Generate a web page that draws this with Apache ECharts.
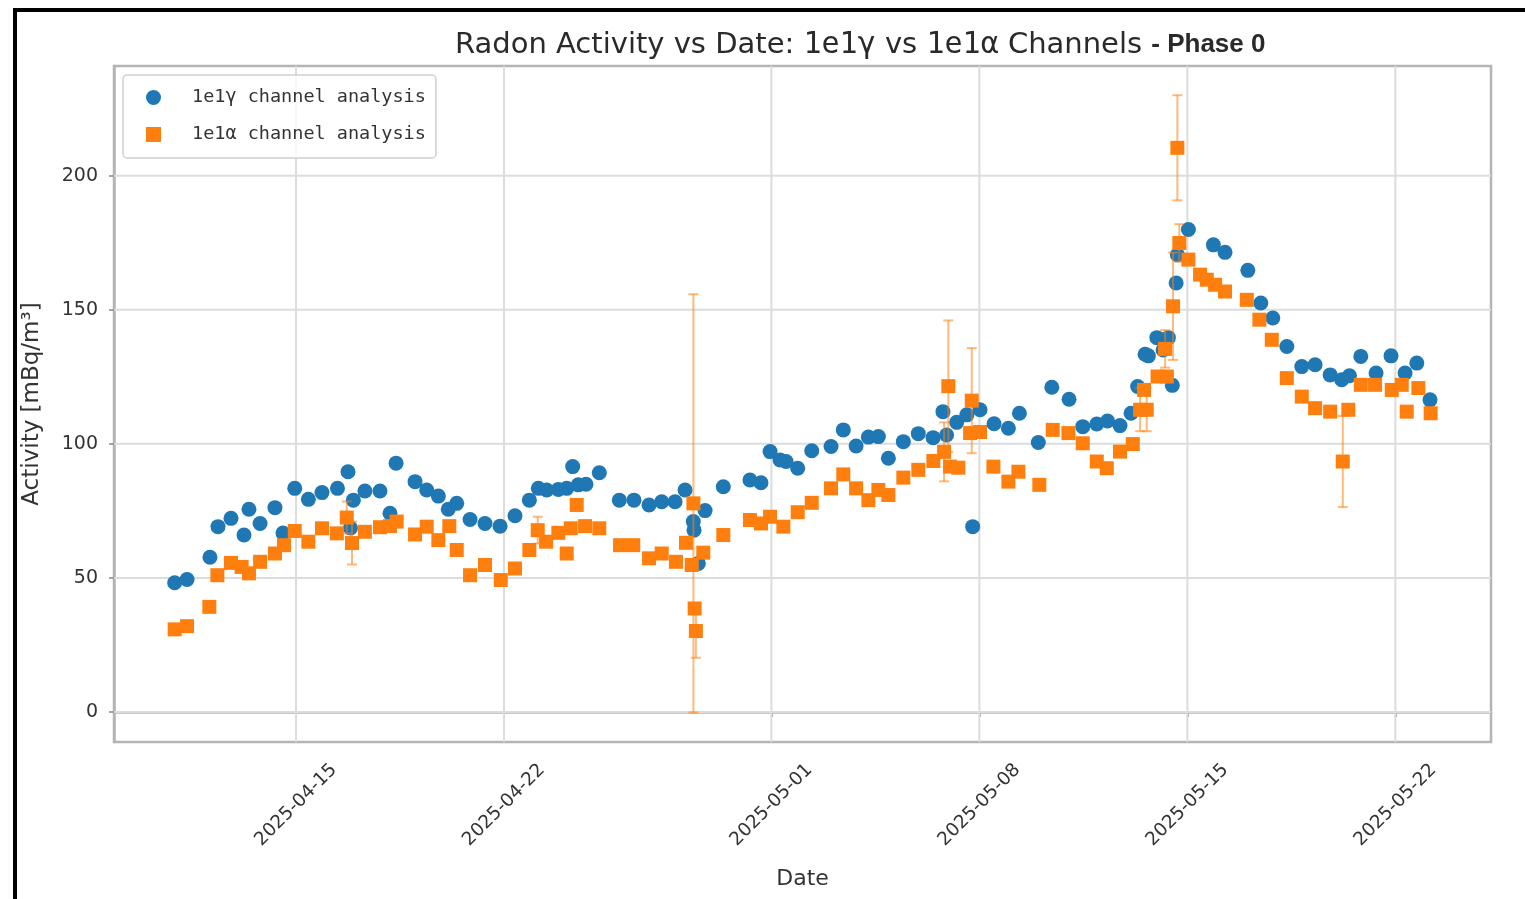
<!DOCTYPE html>
<html>
<head>
<meta charset="utf-8">
<title>Radon Activity vs Date</title>
<script src="https://cdn.jsdelivr.net/npm/echarts@6/dist/echarts.min.js"></script>
<style>
  html, body { margin: 0; padding: 0; background: #fff; }
  #chart { width: 1525px; height: 899px; }
  #frame { position: absolute; left: 13px; top: 8px; right: 0; bottom: 0;
           border-top: 4px solid #000; border-left: 4px solid #000; pointer-events: none; }
</style>
</head>
<body>
<div id="chart"></div>
<div id="frame"></div>
<script>
// 1e1γ channel: measurement times and activity [mBq/m³]
const gammaTimes = [
  '2025-04-10 22:00', '2025-04-11 08:00', '2025-04-12 02:30', '2025-04-12 09:00', '2025-04-12 19:30',
  '2025-04-13 06:00', '2025-04-13 10:00', '2025-04-13 19:00', '2025-04-14 07:00', '2025-04-14 13:30',
  '2025-04-14 23:00', '2025-04-15 10:00', '2025-04-15 21:00', '2025-04-16 09:30', '2025-04-16 18:00',
  '2025-04-16 20:00', '2025-04-16 22:20', '2025-04-17 07:40', '2025-04-17 19:50', '2025-04-18 03:55',
  '2025-04-18 08:50', '2025-04-19 00:10', '2025-04-19 09:35', '2025-04-19 19:00', '2025-04-20 03:00',
  '2025-04-20 09:50', '2025-04-20 20:35', '2025-04-21 08:40', '2025-04-21 20:50', '2025-04-22 08:55',
  '2025-04-22 20:30', '2025-04-23 03:45', '2025-04-23 10:30', '2025-04-23 19:55', '2025-04-24 02:40',
  '2025-04-24 07:30', '2025-04-24 12:00', '2025-04-24 18:15', '2025-04-25 05:00', '2025-04-25 21:10',
  '2025-04-26 09:00', '2025-04-26 21:10', '2025-04-27 07:25', '2025-04-27 18:10', '2025-04-28 02:15',
  '2025-04-28 08:55', '2025-04-28 09:30', '2025-04-28 13:00', '2025-04-28 18:25', '2025-04-29 09:10',
  '2025-04-30 06:40', '2025-04-30 15:35', '2025-04-30 22:55', '2025-05-01 07:00', '2025-05-01 11:50',
  '2025-05-01 21:15', '2025-05-02 08:35', '2025-05-03 00:10', '2025-05-03 10:05', '2025-05-03 20:25',
  '2025-05-04 06:20', '2025-05-04 14:25', '2025-05-04 22:30', '2025-05-05 10:35', '2025-05-05 22:40',
  '2025-05-06 10:35', '2025-05-06 18:35', '2025-05-06 21:30', '2025-05-07 05:40', '2025-05-07 13:50',
  '2025-05-07 18:35', '2025-05-08 00:30', '2025-05-08 11:50', '2025-05-08 23:25', '2025-05-09 08:20',
  '2025-05-09 23:35', '2025-05-10 10:30', '2025-05-11 00:25', '2025-05-11 11:30', '2025-05-11 22:50',
  '2025-05-12 07:30', '2025-05-12 17:35', '2025-05-13 02:30', '2025-05-13 07:50', '2025-05-13 13:50',
  '2025-05-13 16:30', '2025-05-13 23:20', '2025-05-14 04:25', '2025-05-14 08:40', '2025-05-14 11:50',
  '2025-05-14 14:55', '2025-05-14 15:55', '2025-05-15 00:50', '2025-05-15 21:00', '2025-05-16 06:25',
  '2025-05-17 00:50', '2025-05-17 11:20', '2025-05-17 21:00', '2025-05-18 08:20', '2025-05-18 20:25',
  '2025-05-19 07:10', '2025-05-19 19:20', '2025-05-20 04:40', '2025-05-20 10:55', '2025-05-20 20:05',
  '2025-05-21 08:25', '2025-05-21 20:30', '2025-05-22 07:50', '2025-05-22 17:20', '2025-05-23 04:00'
];
const gammaActivity = [
  48.2, 49.4, 57.7, 69.1, 72.2,
  66.0, 75.6, 70.3, 76.2, 66.7,
  83.4, 79.3, 81.8, 83.4, 89.6,
  68.6, 79.0, 82.4, 82.4, 74.1,
  92.8, 85.9, 82.8, 80.5, 75.6,
  77.8, 71.8, 70.3, 69.3, 73.2,
  79.0, 83.4, 82.8, 83.0, 83.4,
  91.5, 84.7, 84.9, 89.2, 79.0,
  79.0, 77.2, 78.4, 78.4, 82.8,
  71.0, 67.8, 55.4, 75.1, 84.0,
  86.5, 85.5, 97.1, 94.0, 93.4,
  90.9, 97.4, 99.0, 105.2, 99.2,
  102.5, 102.7, 94.6, 100.8, 103.8,
  102.3, 112.0, 103.3, 108.0, 110.8,
  69.1, 112.7, 107.5, 105.8, 111.4,
  100.5, 121.1, 116.6, 106.4, 107.4,
  108.5, 106.8, 111.4, 121.4, 133.4,
  132.8, 139.6, 135.0, 139.6, 121.8,
  160.0, 170.5, 179.9, 174.2, 171.4,
  164.7, 152.5, 146.9, 136.3, 128.8,
  129.5, 125.7, 123.9, 125.4, 132.6,
  126.4, 132.8, 126.4, 130.1, 116.4
];

// 1e1α channel: measurement times, activity and (visible) error
const alphaTimes = [
  '2025-04-10 22:00', '2025-04-11 08:00', '2025-04-12 02:00', '2025-04-12 08:30', '2025-04-12 19:30',
  '2025-04-13 04:05', '2025-04-13 10:00', '2025-04-13 19:00', '2025-04-14 07:00', '2025-04-14 14:20',
  '2025-04-14 23:00', '2025-04-15 10:00', '2025-04-15 21:00', '2025-04-16 09:00', '2025-04-16 17:00',
  '2025-04-16 21:15', '2025-04-17 07:40', '2025-04-17 19:50', '2025-04-18 03:55', '2025-04-18 09:20',
  '2025-04-19 00:10', '2025-04-19 09:35', '2025-04-19 19:00', '2025-04-20 03:50', '2025-04-20 09:50',
  '2025-04-20 20:35', '2025-04-21 08:40', '2025-04-21 21:25', '2025-04-22 08:55', '2025-04-22 20:30',
  '2025-04-23 03:15', '2025-04-23 10:00', '2025-04-23 19:55', '2025-04-24 02:40', '2025-04-24 05:55',
  '2025-04-24 10:45', '2025-04-24 17:30', '2025-04-25 05:00', '2025-04-25 21:45', '2025-04-26 08:25',
  '2025-04-26 21:10', '2025-04-27 07:25', '2025-04-27 18:55', '2025-04-28 03:00', '2025-04-28 07:40',
  '2025-04-28 09:00', '2025-04-28 10:00', '2025-04-28 11:00', '2025-04-28 17:00', '2025-04-29 09:10',
  '2025-04-30 06:40', '2025-04-30 15:35', '2025-04-30 22:55', '2025-05-01 09:40', '2025-05-01 21:15',
  '2025-05-02 08:35', '2025-05-03 00:10', '2025-05-03 10:05', '2025-05-03 20:25', '2025-05-04 06:20',
  '2025-05-04 14:25', '2025-05-04 22:30', '2025-05-05 10:35', '2025-05-05 22:40', '2025-05-06 10:50',
  '2025-05-06 19:30', '2025-05-06 22:55', '2025-05-07 00:20', '2025-05-07 07:00', '2025-05-07 16:30',
  '2025-05-07 17:50', '2025-05-08 00:30', '2025-05-08 11:20', '2025-05-08 23:25', '2025-05-09 07:30',
  '2025-05-10 00:25', '2025-05-10 11:15', '2025-05-10 23:55', '2025-05-11 11:30', '2025-05-11 22:50',
  '2025-05-12 06:55', '2025-05-12 17:35', '2025-05-13 03:55', '2025-05-13 09:50', '2025-05-13 13:00',
  '2025-05-13 15:10', '2025-05-13 23:55', '2025-05-14 06:00', '2025-05-14 07:25', '2025-05-14 12:25',
  '2025-05-14 15:55', '2025-05-14 17:30', '2025-05-15 00:50', '2025-05-15 10:15', '2025-05-15 15:40',
  '2025-05-15 22:25', '2025-05-16 06:25', '2025-05-17 00:00', '2025-05-17 10:10', '2025-05-17 20:10',
  '2025-05-18 08:20', '2025-05-18 20:25', '2025-05-19 07:10', '2025-05-19 19:20', '2025-05-20 05:30',
  '2025-05-20 10:00', '2025-05-20 20:05', '2025-05-21 07:35', '2025-05-21 21:05', '2025-05-22 05:10',
  '2025-05-22 09:10', '2025-05-22 18:35', '2025-05-23 04:30'
];
const alphaActivity = [
  30.8, 32.0, 39.2, 51.0, 55.6,
  54.1, 51.7, 56.0, 59.1, 62.2,
  67.5, 63.5, 68.5, 66.6, 72.5,
  63.0, 67.2, 68.9, 69.3, 71.0,
  66.2, 69.1, 64.1, 69.3, 60.4,
  51.0, 54.8, 49.2, 53.5, 60.4,
  67.8, 63.5, 66.8, 59.1, 68.5,
  77.2, 69.3, 68.5, 62.2, 62.2,
  57.3, 59.1, 56.0, 63.1, 54.8,
  77.8, 38.6, 30.2, 59.4, 66.0,
  71.6, 70.3, 72.8, 69.1, 74.5,
  78.0, 83.4, 88.6, 83.4, 79.0,
  82.8, 80.9, 87.4, 90.3, 93.6,
  97.0, 121.5, 91.5, 91.1, 104.0,
  116.1, 104.4, 91.5, 85.9, 89.6,
  84.7, 105.2, 104.0, 100.2, 93.4,
  90.9, 97.1, 99.9, 112.7, 120.1,
  112.7, 125.1, 135.4, 125.1, 151.3,
  210.4, 174.9, 168.7, 163.1, 161.2,
  159.3, 156.8, 153.7, 146.3, 138.8,
  124.5, 117.6, 113.3, 112.0, 93.4,
  112.7, 122.0, 122.0, 120.1, 122.0,
  112.0, 120.8, 111.4
];
const alphaError = [
  0, 0, 0, 0, 0,
  0, 0, 0, 0, 0,
  0, 0, 0, 0, 6,
  8, 0, 0, 0, 0,
  0, 0, 0, 0, 0,
  0, 0, 0, 0, 0,
  5, 0, 0, 0, 0,
  0, 0, 0, 0, 0,
  0, 0, 0, 0, 0,
  78, 0, 10, 0, 0,
  0, 0, 0, 0, 0,
  0, 0, 0, 0, 0,
  0, 0, 0, 0, 0,
  11, 24.5, 0, 0, 0,
  19.6, 0, 0, 0, 0,
  0, 0, 0, 0, 0,
  0, 0, 0, 8, 0,
  8, 0, 7, 0, 20,
  19.6, 7, 0, 0, 0,
  0, 0, 0, 0, 0,
  0, 0, 0, 0, 17,
  0, 0, 0, 0, 0,
  0, 0, 0
];

const dateTicks = ['2025-04-15', '2025-04-22', '2025-05-01', '2025-05-08', '2025-05-15', '2025-05-22'];
const activityTicks = [0, 50, 100, 150, 200];

const toTime = s => new Date((s.length === 10 ? s + ' 00:00' : s).replace(' ', 'T')).getTime();
const pad = n => String(n).padStart(2, '0');
const fmtDate = v => {
  const d = new Date(v);
  return d.getFullYear() + '-' + pad(d.getMonth() + 1) + '-' + pad(d.getDate());
};

const BLUE = '#1f77b4';
const ORANGE = '#ff7f0e';
const xMin = toTime('2025-04-08 21:00');
const xMax = toTime('2025-05-25 05:15');
const yMin = -11.2;
const yMax = 240.9;

const gammaData = gammaTimes.map((t, i) => [toTime(t), gammaActivity[i]]);
const alphaData = alphaTimes.map((t, i) => [toTime(t), alphaActivity[i], alphaError[i]]);
const tickTimes = dateTicks.map(toTime);

const chart = echarts.init(document.getElementById('chart'));

const gridStyle = { stroke: '#dcdcdc', lineWidth: 2 };

const option = {
  animation: false,
  backgroundColor: '#fff',
  title: {
    text: 'Radon Activity vs Date: {m|1e1γ} vs {m|1e1α} Channels {b|- Phase 0}',
    left: 450,
    top: 25,
    textStyle: {
      fontFamily: 'DejaVu Sans',
      fontSize: 29,
      fontWeight: 'normal',
      color: '#2a2a2a',
      rich: {
        m: { fontFamily: 'DejaVu Sans Mono', fontSize: 30, color: '#2a2a2a' },
        b: { fontFamily: 'Liberation Sans', fontSize: 26, fontWeight: 'bold', color: '#2a2a2a' }
      }
    }
  },
  legend: {
    orient: 'vertical',
    left: 123,
    top: 75,
    padding: [12, 10, 13, 23],
    itemWidth: 15,
    itemHeight: 15,
    itemGap: 16,
    backgroundColor: 'rgba(255,255,255,0.8)',
    borderColor: '#d0d0d0',
    borderWidth: 1.5,
    borderRadius: 4,
    data: [
      { name: '1e1γ channel analysis', icon: 'circle' },
      { name: '1e1α channel analysis', icon: 'rect' }
    ],
    textStyle: {
      fontFamily: 'DejaVu Sans Mono',
      fontSize: 18.5,
      lineHeight: 21,
      color: '#333',
      padding: [0, 0, 0, 26]
    }
  },
  grid: {
    left: 114,
    right: 34,
    top: 66,
    bottom: 157,
    show: true,
    borderColor: '#b4b4b4',
    borderWidth: 2.5,
    outerBoundsMode: 'none'
  },
  xAxis: {
    type: 'value',
    min: xMin,
    max: xMax,
    name: 'Date',
    nameLocation: 'middle',
    nameGap: 126,
    nameTextStyle: { fontFamily: 'DejaVu Sans', fontSize: 22, color: '#333' },
    axisLine: { lineStyle: { color: '#b4b4b4', width: 2.5 } },
    axisTick: { customValues: tickTimes, length: 5, lineStyle: { color: '#888', width: 1.5 } },
    axisLabel: {
      customValues: tickTimes,
      formatter: fmtDate,
      rotate: 45,
      align: 'center',
      verticalAlign: 'middle',
      margin: 63,
      fontFamily: 'DejaVu Sans',
      fontSize: 18.5,
      color: '#333'
    },
    splitLine: { show: false }
  },
  yAxis: {
    type: 'value',
    min: yMin,
    max: yMax,
    name: 'Activity [mBq/m³]',
    nameLocation: 'middle',
    nameRotate: 90,
    nameGap: 70,
    nameTextStyle: { fontFamily: 'DejaVu Sans', fontSize: 23, color: '#333' },
    axisLine: { show: true, lineStyle: { color: '#b4b4b4', width: 2.5 } },
    axisTick: { show: true, customValues: activityTicks, length: 5, lineStyle: { color: '#888', width: 1.5 } },
    axisLabel: {
      customValues: activityTicks,
      margin: 16,
      fontFamily: 'DejaVu Sans',
      fontSize: 19,
      color: '#333'
    },
    splitLine: { show: false }
  },
  series: [
    {
      // vertical grid lines at the date ticks
      type: 'custom',
      name: 'xgrid',
      silent: true,
      z: 1,
      data: tickTimes.map(t => [t, yMin]),
      encode: { x: 0, y: 1 },
      renderItem: (params, api) => {
        const p = api.coord([api.value(0), yMin]);
        const cs = params.coordSys;
        return { type: 'line', shape: { x1: p[0], y1: cs.y, x2: p[0], y2: cs.y + cs.height }, style: gridStyle };
      }
    },
    {
      // horizontal grid lines at the activity ticks
      type: 'custom',
      name: 'ygrid',
      silent: true,
      z: 1,
      data: activityTicks.map(v => [xMin, v]),
      encode: { x: 0, y: 1 },
      renderItem: (params, api) => {
        const p = api.coord([xMin, api.value(1)]);
        const cs = params.coordSys;
        return { type: 'line', shape: { x1: cs.x, y1: p[1], x2: cs.x + cs.width, y2: p[1] }, style: gridStyle };
      }
    },
    {
      name: '1e1γ channel analysis',
      type: 'scatter',
      z: 3,
      symbol: 'circle',
      symbolSize: 15,
      itemStyle: { color: BLUE, opacity: 1 },
      data: gammaData
    },
    {
      // error bars of the alpha channel
      type: 'custom',
      name: 'alphaErr',
      silent: true,
      z: 4,
      data: alphaData,
      encode: { x: 0, y: 1 },
      renderItem: (params, api) => {
        const err = api.value(2);
        if (!err) return null;
        const t = api.value(0);
        const v = api.value(1);
        const hi = api.coord([t, v + err]);
        const lo = api.coord([t, v - err]);
        const cap = 5;
        const st = { stroke: ORANGE, lineWidth: 2, opacity: 0.55 };
        return {
          type: 'group',
          children: [
            { type: 'line', shape: { x1: hi[0], y1: hi[1], x2: lo[0], y2: lo[1] }, style: st },
            { type: 'line', shape: { x1: hi[0] - cap, y1: hi[1], x2: hi[0] + cap, y2: hi[1] }, style: st },
            { type: 'line', shape: { x1: lo[0] - cap, y1: lo[1], x2: lo[0] + cap, y2: lo[1] }, style: st }
          ]
        };
      }
    },
    {
      name: '1e1α channel analysis',
      type: 'scatter',
      z: 5,
      symbol: 'rect',
      symbolSize: 14,
      itemStyle: { color: ORANGE, opacity: 1 },
      data: alphaData.map(d => [d[0], d[1]])
    }
  ]
};

chart.setOption(option);
</script>
</body>
</html>
